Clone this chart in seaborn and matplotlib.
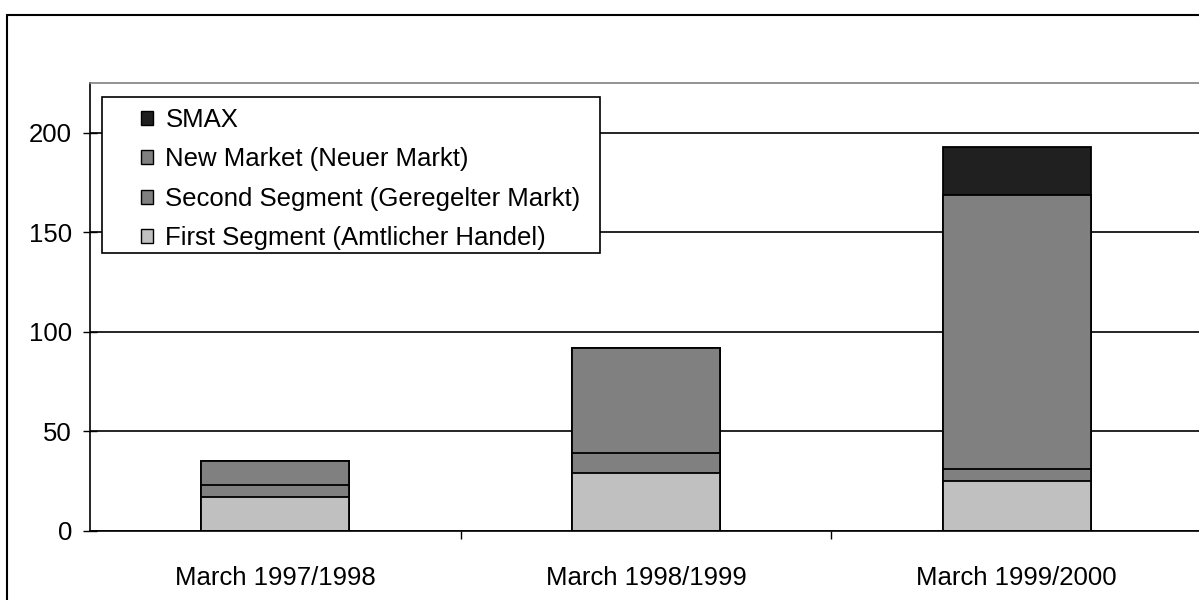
import numpy as np
import matplotlib
matplotlib.use("Agg")
import matplotlib.pyplot as plt
from matplotlib.patches import Patch, Rectangle
import seaborn as sns

sns.set_style("white")
plt.rcParams['font.family'] = ['Liberation Sans', 'DejaVu Sans']
plt.rcParams['text.color'] = 'black'
plt.rcParams['xtick.color'] = 'black'
plt.rcParams['ytick.color'] = 'black'

# Data
categories = ["March 1997/1998", "March 1998/1999", "March 1999/2000"]
first_segment = [17, 29, 25]
second_segment = [6, 10, 6]
new_market = [12, 53, 137.5]
smax = [0, 0, 24.5]

series_names = ["SMAX", "New Market (Neuer Markt)",
                "Second Segment (Geregelter Markt)", "First Segment (Amtlicher Handel)"]
series_colors = ["#202020", "#808080", "#808080", "#C0C0C0"]

# cumulative tops for stacked drawing (tallest drawn first)
c1 = np.array(first_segment)
c2 = c1 + np.array(second_segment)
c3 = c2 + np.array(new_market)
c4 = c3 + np.array(smax)
cums = [c4, c3, c2, c1]

fig = plt.figure(figsize=(11.99, 6.0), dpi=100)
ax = fig.add_axes([90 / 1199, 69 / 600, 1112 / 1199, 448 / 600])

for cum, col in zip(cums, series_colors):
    sns.barplot(x=categories, y=cum, color=col, edgecolor="black",
                linewidth=1.3, width=0.4, ax=ax, saturation=1)

ax.set_ylim(0, 225)
ax.set_xlim(-0.5, 2.5)
ax.set_yticks([0, 50, 100, 150, 200])
ax.yaxis.grid(True, color="black", linewidth=1.2)
ax.set_axisbelow(True)

fs = 18.5
ax.tick_params(axis="y", direction="inout", length=10, width=1, pad=8,
               labelsize=fs, left=True)
ax.tick_params(axis="x", which="major", length=0, pad=25, labelsize=fs)
ax.set_xticks([0.5, 1.5], minor=True)
ax.tick_params(axis="x", which="minor", direction="out", length=6, width=1, bottom=True)

for s in ["left", "bottom"]:
    ax.spines[s].set_color("black")
    ax.spines[s].set_linewidth(1.2)
ax.spines["top"].set_color("#808080")
ax.spines["top"].set_linewidth(1.2)
ax.spines["right"].set_color("black")

# legend box drawn as separate rectangle
box = Rectangle((102 / 1199, 1 - 253 / 600), 498 / 1199, 156 / 600,
                transform=fig.transFigure, facecolor="white", edgecolor="black",
                linewidth=1.2, zorder=5)
fig.patches.append(box)
handles = [Patch(facecolor=c, edgecolor="black", linewidth=1) for c in series_colors]
leg = fig.legend(handles, series_names, loc="upper left",
                 bbox_to_anchor=(141 / 1199, 1 - 108 / 600), frameon=False,
                 fontsize=fs, handlelength=0.45, handleheight=0.45,
                 handletextpad=0.5, labelspacing=0.6, borderpad=0, borderaxespad=0)
leg.set_zorder(6)

# outer chart frame
frame = Rectangle((7 / 1199, -0.2), 1.2, 1.2 - 15 / 600,
                  transform=fig.transFigure, fill=False, edgecolor="black",
                  linewidth=1.5, clip_on=False)
fig.patches.append(frame)

fig.savefig("out.png", dpi=100)
